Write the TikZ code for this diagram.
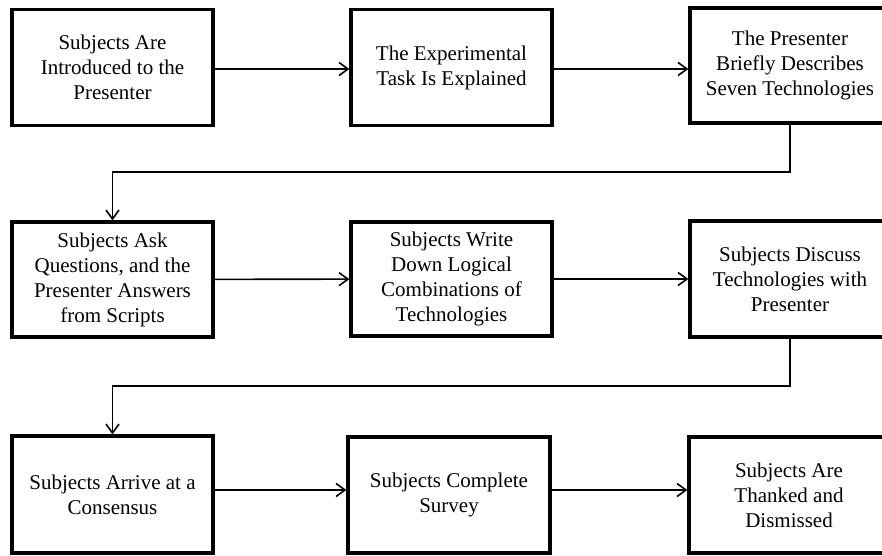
\documentclass[tikz,border=0pt]{standalone}
\usepackage{fontspec}
\setmainfont{Liberation Serif}
\usetikzlibrary{arrows.meta}
\begin{document}
\begin{tikzpicture}[x=1pt,y=-1pt,
  stepbox/.style={draw=black,line width=3.2pt,rectangle,align=center,inner sep=0pt,
    minimum width=201pt,minimum height=116pt,
    font=\fontsize{21}{25}\selectfont},
  conn/.style={draw=black,line width=1.6pt,-{Straight Barb[length=9pt,width=13pt,line width=1.6pt]}}]
\clip (0,0) rectangle (882,555);
\fill[white] (0,0) rectangle (882,555);
\node[stepbox] (b1) at (112.5,67.5) {Subjects Are\\Introduced to the\\Presenter};
\node[stepbox] (b2) at (451.5,67.5) {The Experimental\\Task Is Explained};
\node[stepbox,minimum width=200pt,minimum height=115pt] (b3) at (790,65.5) {The Presenter\\Briefly Describes\\Seven Technologies};
\node[stepbox,minimum height=115pt] (b4) at (112.5,279.5) {Subjects Ask\\Questions, and the\\Presenter Answers\\from Scripts};
\node[stepbox,minimum height=114pt] (b5) at (451.5,279) {Subjects Write\\Down Logical\\Combinations of\\Technologies};
\node[stepbox,minimum width=200pt] (b6) at (790,279) {Subjects Discuss\\Technologies with\\Presenter};
\node[stepbox,minimum height=117pt] (b7) at (112.5,494.5) {Subjects Arrive at a\\Consensus};
\node[stepbox,minimum width=202pt] (b8) at (449,495) {Subjects Complete\\Survey};
\node[stepbox,minimum width=200pt] (b9) at (789,495) {Subjects Are\\Thanked and\\Dismissed};
\coordinate (t1) at (790,172);
\coordinate (t2) at (790,386);
\draw[conn] (b1.east |- 0,69) -- (b2.west |- 0,69);
\draw[conn] (b2.east |- 0,69) -- (b3.west |- 0,69);
\draw[conn] (b3.south) -- (t1) -| (b4.north);
\draw[conn] (b4) -- (b5);
\draw[conn] (b5) -- (b6);
\draw[conn] (b6.south) -- (t2) -| (b7.north);
\draw[conn] (b7.east |- 0,490) -- (b8.west |- 0,490);
\draw[conn] (b8.east |- 0,490) -- (b9.west |- 0,490);
\end{tikzpicture}
\end{document}
